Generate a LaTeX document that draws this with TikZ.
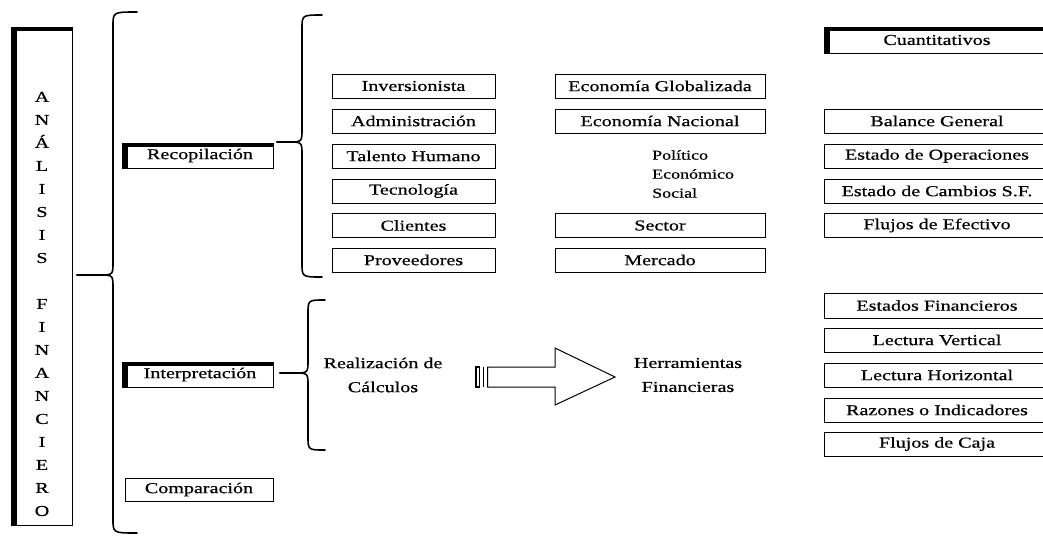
\documentclass[tikz,border=0pt]{standalone}
\usepackage{fontspec}
\setmainfont{Liberation Serif}[FakeStretch=1.33,FakeBold=0.6]
\newcommand\mainsz{\fontsize{15.1}{18}\selectfont}
\newcommand\smallsz{\fontsize{13.5}{19}\selectfont}
\newcommand\bracedraw[6]{% #1 end x, #2 vertical x, #3 top y, #4 mid y, #5 bottom y, #6 tip x
  \draw[brace] (#1,#3) .. controls (#2,#3) .. (#2,#3+14) -- (#2,#4-13) .. controls (#2,#4) .. (#2-14,#4) -- (#6,#4);
  \draw[brace] (#6,#4) -- (#2-14,#4) .. controls (#2,#4) .. (#2,#4+13) -- (#2,#5-14) .. controls (#2,#5) .. (#1,#5);
}
\tikzset{
  bx/.style={draw, line width=1pt, inner sep=0pt, font=\mainsz, minimum height=24pt},
  heavy/.style={bx, path picture={
      \fill (path picture bounding box.north west) rectangle ([xshift=6pt]path picture bounding box.south west);
      \fill (path picture bounding box.north west) rectangle ([yshift=-3.5pt]path picture bounding box.north east);}},
  txt/.style={inner sep=0pt, font=\mainsz},
  brace/.style={line width=1.6pt, line cap=round, line join=round},
  arrowline/.style={line width=1pt, line join=miter},
}
\begin{document}
\begin{tikzpicture}[x=1pt,y=-1pt]
\useasboundingbox (0,0) rectangle (1043,536);

% main vertical box
\node[heavy, minimum width=61pt, minimum height=498pt] (af) at (41.5,276) {};
\node[txt, align=center, font=\fontsize{15.1}{23}\selectfont] (letters) at (42,304)
  {A\\N\\Á\\L\\I\\S\\I\\S\\[23pt]F\\I\\N\\A\\N\\C\\I\\E\\R\\O};

% second level
\node[heavy, minimum width=151pt, minimum height=25pt] (rec) at (197.5,155.5) {\hspace*{5pt}Recopilación};
\node[heavy, minimum width=151pt, minimum height=25pt] (int) at (197.5,374.5) {\hspace*{5pt}Interpretación};
\node[bx, minimum width=148pt, minimum height=23pt] (com) at (199,489.5) {Comparación};

% Recopilación items
\node[bx, minimum width=163pt] (inv) at (413.5,86) {Inversionista};
\node[bx, minimum width=163pt] (adm) at (413.5,121) {Administración};
\node[bx, minimum width=163pt] (tal) at (413.5,156) {Talento Humano};
\node[bx, minimum width=163pt] (tec) at (413.5,191) {Tecnología};
\node[bx, minimum width=163pt] (cli) at (413.5,225.5) {Clientes};
\node[bx, minimum width=163pt] (pro) at (413.5,260) {Proveedores};

\node[bx, minimum width=210pt] (eg) at (660,86) {Economía Globalizada};
\node[bx, minimum width=210pt] (en) at (660,121) {Economía Nacional};
\node[inner sep=0pt, font=\smallsz, align=left, anchor=west] (pes) at (652,174) {Político\\Económico\\Social};
\node[bx, minimum width=210pt] (sec) at (660,225.5) {Sector};
\node[bx, minimum width=210pt] (mer) at (660,260) {Mercado};

% right column
\node[heavy, minimum width=226pt, minimum height=26pt] (cua) at (937,40) {Cuantitativos};
\node[bx, minimum width=226pt] (bg) at (937,121) {Balance General};
\node[bx, minimum width=226pt] (eo) at (937,156) {Estado de Operaciones};
\node[bx, minimum width=226pt] (ec) at (937,191) {Estado de Cambios S.F.};
\node[bx, minimum width=226pt] (fe) at (937,225.5) {Flujos de Efectivo};

\node[bx, minimum width=226pt, minimum height=25pt] (ef) at (937,305.5) {Estados Financieros};
\node[bx, minimum width=226pt] (lv) at (937,340) {Lectura Vertical};
\node[bx, minimum width=226pt] (lh) at (937,375) {Lectura Horizontal};
\node[bx, minimum width=226pt] (ri) at (937,410) {Razones o Indicadores};
\node[bx, minimum width=226pt] (fc) at (937,444) {Flujos de Caja};

% interpretation row
\node[txt, align=center, font=\fontsize{15.1}{24}\selectfont] (rc) at (383,375) {Realización de\\Cálculos};
\node[txt, align=center, font=\fontsize{15.1}{24}\selectfont] (hf) at (688,375) {Herramientas\\Financieras};

% braces
\bracedraw{137}{113}{12}{275}{533}{77}
\bracedraw{322}{302}{15}{142}{277}{277}
\bracedraw{325}{308}{300}{373}{450}{280}

% block arrow
\coordinate (atail) at (476,377);
\draw[line width=1.6pt] (476,367) rectangle (479.5,387);
\draw[line width=1.2pt] (483.5,367) -- (483.5,387);
\draw[arrowline] (487.5,367) -- (555,367) -- (555,348) -- (615,377) -- (555,405) -- (555,387) -- (487.5,387) -- cycle;
\end{tikzpicture}
\end{document}
